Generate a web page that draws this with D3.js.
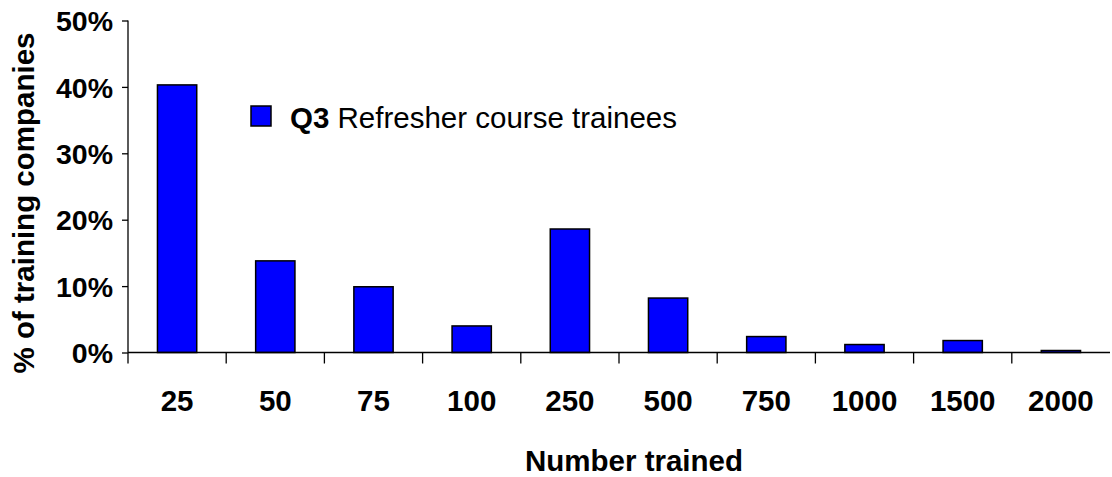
<!DOCTYPE html>
<html>
<head>
	<style>
		html, body { margin: 0; padding: 0; background: white; }
		svg { display: block; font-family: "Liberation Sans", Arial, sans-serif; }
	</style>
</head>
<body>
<svg class="chart" width="1112" height="477"></svg>

<script src="https://d3js.org/d3.v7.min.js"></script>
<script>

// categories: number of trainees
var categories = ['25', '50', '75', '100', '250', '500', '750', '1000', '1500', '2000']
// share of training companies (%)
var values = [40.3, 13.8, 9.9, 4.0, 18.6, 8.2, 2.4, 1.2, 1.8, 0.3]
var yTicks = [0, 10, 20, 30, 40, 50]

var cfg = {
	left: 128,
	right: 1110,
	top: 20.5,
	bottom: 352.5,
	fontSize: 29.5,
}

var svg = d3.select('.chart')

var x = d3.scaleBand()
	.domain(categories)
	.range([cfg.left, cfg.right])
	.paddingInner(0.6)
	.paddingOuter(0.3)

// band used for the tick marks between categories
var xEdges = d3.scaleBand()
	.domain(categories)
	.range([cfg.left, cfg.right])

var y = d3.scaleLinear()
	.domain([0, 50])
	.range([cfg.bottom, cfg.top])

// bars
svg.append('g').selectAll('rect')
	.data(values)
	.enter().append('rect')
		.attr('x', function(d, i) { return x(categories[i]) })
		.attr('y', function(d) { return y(d) })
		.attr('width', x.bandwidth())
		.attr('height', function(d) { return y(0) - y(d) })
		.attr('fill', '#0000ff')
		.attr('stroke', 'black')
		.attr('stroke-width', 1.5)

// y axis
var yAxis = svg.append('g')
	.attr('transform', 'translate(' + cfg.left + ',0)')
	.call(d3.axisLeft(y).tickValues(yTicks).tickSize(6).tickPadding(9)
		.tickFormat(function(d) { return d + '%' }))
yAxis.select('.domain').attr('stroke', 'black').attr('stroke-width', 1.3)
	.attr('d', 'M0,' + cfg.top + 'V' + cfg.bottom)
yAxis.selectAll('.tick line').attr('stroke-width', 1.3)
yAxis.selectAll('text')
	.attr('dy', '0.36em')
	.attr('font-size', 28.5)
	.attr('font-weight', 'bold')
	.attr('font-family', '"Liberation Sans", Arial, sans-serif')
	.attr('fill', 'black')

// x axis: line plus ticks at category edges
var xAxis = svg.append('g')
xAxis.append('line')
	.attr('x1', cfg.left).attr('x2', cfg.right)
	.attr('y1', y(0)).attr('y2', y(0))
	.attr('stroke', 'black').attr('stroke-width', 1.3)
xAxis.selectAll('.edge')
	.data(categories)
	.enter().append('line')
		.attr('x1', function(c) { return xEdges(c) })
		.attr('x2', function(c) { return xEdges(c) })
		.attr('y1', y(0)).attr('y2', y(0) + 11)
		.attr('stroke', 'black').attr('stroke-width', 1.3)
xAxis.selectAll('.lbl')
	.data(categories)
	.enter().append('text')
		.attr('x', function(c) { return xEdges(c) + xEdges.bandwidth() / 2 })
		.attr('y', 411)
		.attr('text-anchor', 'middle')
		.attr('font-size', cfg.fontSize)
		.attr('font-weight', 'bold')
		.text(function(c) { return c })

// axis titles
svg.append('text')
	.attr('x', 634)
	.attr('y', 471)
	.attr('text-anchor', 'middle')
	.attr('font-size', cfg.fontSize)
	.attr('font-weight', 'bold')
	.text('Number trained')

svg.append('text')
	.attr('transform', 'translate(34,203) rotate(-90)')
	.attr('text-anchor', 'middle')
	.attr('font-size', cfg.fontSize)
	.attr('font-weight', 'bold')
	.text('% of training companies')

// legend
var legend = svg.append('g')
legend.append('rect')
	.attr('x', 251).attr('y', 106)
	.attr('width', 20).attr('height', 20)
	.attr('fill', '#0000ff')
	.attr('stroke', 'black').attr('stroke-width', 1.5)
var lt = legend.append('text')
	.attr('x', 290).attr('y', 128)
	.attr('font-size', cfg.fontSize)
lt.append('tspan').attr('font-weight', 'bold').text('Q3')
lt.append('tspan').text(' Refresher course trainees')

</script>
</body>
</html>
